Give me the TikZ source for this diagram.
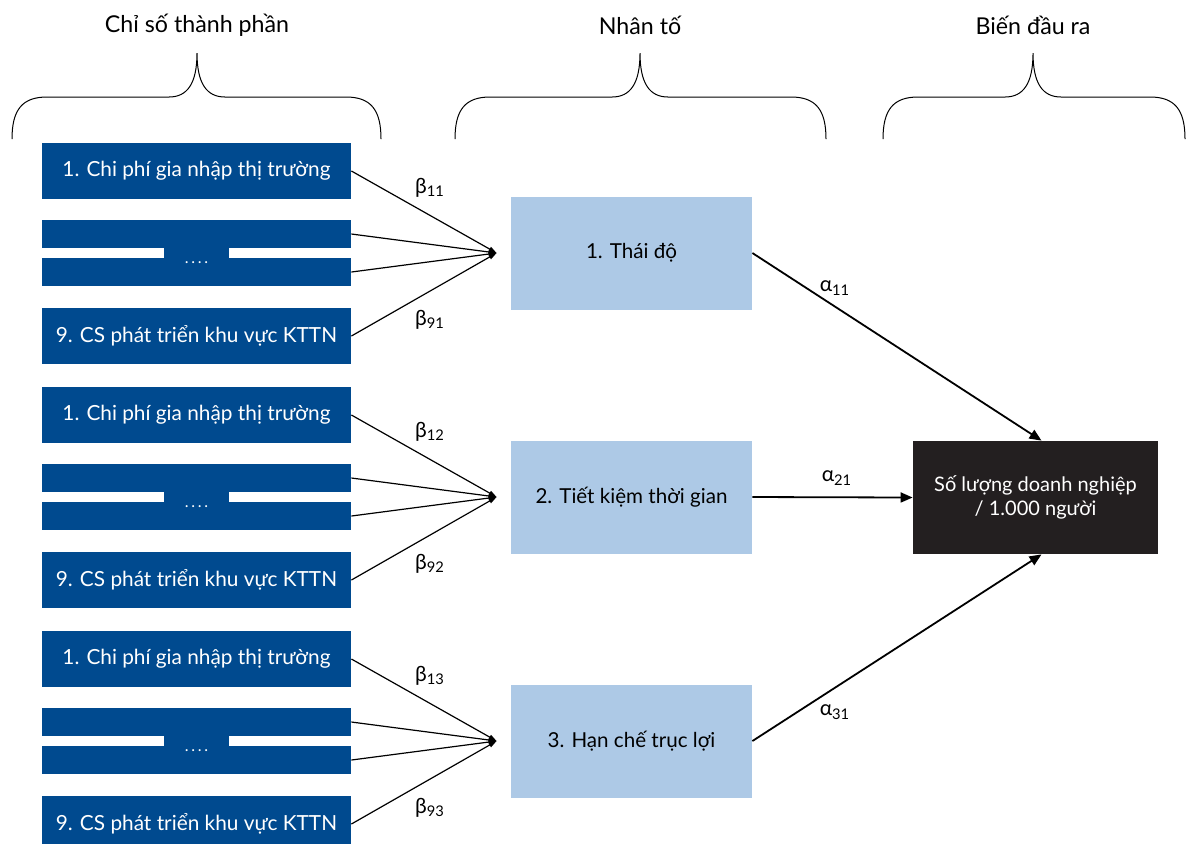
\documentclass[tikz,border=0pt]{standalone}
\usepackage{fontspec}
\setmainfont{Lato}
\usetikzlibrary{positioning,arrows.meta}
\definecolor{indblue}{RGB}{0,74,143}
\definecolor{facblue}{RGB}{173,201,230}
\definecolor{outblack}{RGB}{35,31,32}
\tikzset{
  indbox/.style={fill=indblue, text=white, minimum width=154.5pt, minimum height=28pt, inner sep=0pt, font=\fontsize{10.4}{12}\selectfont},
  indbar/.style={fill=indblue, minimum width=154.5pt, minimum height=14pt, inner sep=0pt},
  facbox/.style={fill=facblue, minimum width=120.5pt, minimum height=56.5pt, inner sep=0pt, font=\fontsize{10.3}{12}\selectfont},
  outbox/.style={fill=outblack, text=white, minimum width=122.5pt, minimum height=56.5pt, inner sep=0pt, align=center, font=\fontsize{10}{12}\selectfont},
  head/.style={font=\fontsize{11.6}{13}\selectfont},
  coef/.style={font=\fontsize{10.5}{12}\selectfont},
  inarrow/.style={line width=0.6pt, -{Triangle[length=4pt,width=2.5pt]}},
  outarrow/.style={line width=0.9pt, -{Triangle[length=6pt,width=5pt]}}
}
\newcommand{\cf}[2]{#1\textsubscript{#2}}

\begin{document}
\begin{tikzpicture}[x=0.5pt,y=-0.5pt]
  \useasboundingbox (0,0) rectangle (1186,843);

  % headings and braces
  \node[head] (h1) at (197,25) {Chỉ số thành phần};
  \node[head] (h2) at (640,25) {Nhân tố};
  \node[head] (h3) at (1033,25) {Biến đầu ra};
  \foreach \a/\m/\b in {12/197/381, 455/640/826, 883/1033/1185}
    \draw[line width=0.5pt] (\a,139) .. controls (\a,110) and (\a+10,97) .. (\a+35,97) -- (\m-28,97)
      .. controls (\m-10,97) and (\m,84) .. (\m,53) .. controls (\m,84) and (\m+10,97) .. (\m+28,97)
      -- (\b-35,97) .. controls (\b-10,97) and (\b,110) .. (\b,139);

  % output
  \node[outbox] (out) at (1035.5,497.5) {Số lượng doanh nghiệp\\/ 1.000 người};

  % indicators -> factors -> output
  \foreach \fac [count=\n] in {{1. Thái độ},{2. Tiết kiệm thời gian},{3. Hạn chế trục lợi}} {
    \pgfmathsetmacro\yo{244*(\n-1)}
    \node[indbox] (a\n) at (196.5,171+\yo) {1. Chi phí gia nhập thị trường};
    \node[indbar] (t\n) at (196.5,234+\yo) {};
    \node[indbar] (b\n) at (196.5,272+\yo) {};
    \fill[indblue] (164,247+\yo) rectangle (229,259+\yo);
    \node[text=white, font=\fontsize{8}{9}\selectfont] (d\n) at (196.5,263+\yo) {.\,.\,.\,.};
    \node[indbox] (z\n) at (196.5,336+\yo) {9. CS phát triển khu vực KTTN};
    \node[facbox] (f\n) at (631.5,253+\yo) {\fac};
    \coordinate (c\n) at ([xshift=-7pt]f\n.west);
    \foreach \src in {a\n,t\n,b\n,z\n}
      \draw[inarrow] (\src.east) -- (c\n);
    \node[coef] (bt\n) at (430,188+\yo) {\cf{β}{1\n}};
    \node[coef] (bb\n) at (430,320+\yo) {\cf{β}{9\n}};
  }
  \draw[outarrow] (f1.east) -- ([xshift=3pt]out.north);
  \draw[outarrow] (f2.east) -- (out.west);
  \draw[outarrow] (f3.east) -- ([xshift=3pt]out.south);
  \node[coef] (al1) at (835,288) {\cf{α}{11}};
  \node[coef] (al2) at (837,478) {\cf{α}{21}};
  \node[coef] (al3) at (835,712) {\cf{α}{31}};
\end{tikzpicture}
\end{document}
